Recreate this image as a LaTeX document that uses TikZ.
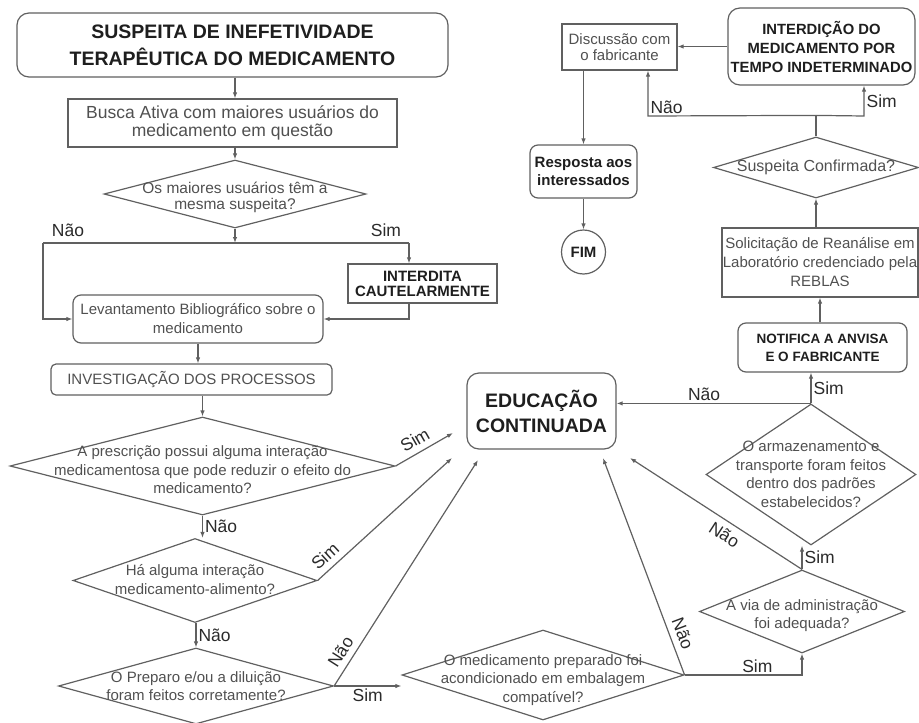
\documentclass[tikz,border=0pt]{standalone}
\usepackage{fontspec}
\setmainfont{Liberation Sans}
\usetikzlibrary{shapes.geometric,arrows.meta}
\definecolor{linegray}{HTML}{606060}
\definecolor{txtgray}{HTML}{505050}
\definecolor{lblgray}{HTML}{2A2A2A}
\definecolor{bolddark}{HTML}{1E1E1E}
\tikzset{
  ln/.style={draw=linegray,line width=1.2pt},
  arr/.style={ln,-{Latex[length=6pt,width=4.5pt]}},
  box/.style={draw=linegray,line width=1.2pt,inner sep=0pt,align=center,text=txtgray,font=\fontsize{15}{19}\selectfont},
  rbox/.style={box,rounded corners=8pt},
  bbox/.style={rbox,text=bolddark,font=\bfseries\fontsize{15}{18}\selectfont},
  dia/.style={diamond,draw=linegray,line width=1.2pt,inner sep=0pt},
  dtxt/.style={text=txtgray,align=center,inner sep=0pt,font=\fontsize{15}{18.5}\selectfont},
  lbl/.style={text=lblgray,inner sep=2pt,font=\fontsize{17.5}{20}\selectfont},
}
\begin{document}
\begin{tikzpicture}[x=1pt,y=-1pt]
\useasboundingbox (0,0) rectangle (919,723);
% coluna da esquerda
\node[bbox,rounded corners=12pt,minimum width=431pt,minimum height=64pt,font=\bfseries\fontsize{19.5}{27}\selectfont] (susp) at (232.5,45) {SUSPEITA DE INEFETIVIDADE\\TERAPÊUTICA DO MEDICAMENTO};
\node[box,minimum width=329pt,minimum height=48pt,font=\fontsize{17.5}{18}\selectfont] (busca) at (232.5,123) {Busca Ativa com maiores usuários do\\medicamento em questão};
\node[dia,minimum width=262pt,minimum height=68pt,label={[dtxt,yshift=-3pt,font=\fontsize{15.5}{16}\selectfont]center:{Os maiores usuários têm a\\mesma suspeita?}}] (d1) at (235,194) {};
\coordinate (j1) at (235,243);
\coordinate (jn) at (43,243);
\coordinate (js) at (409,243);
\node[box,minimum width=149pt,minimum height=39pt,text=bolddark,font=\bfseries\fontsize{15}{15}\selectfont] (cautela) at (422.5,283.5) {INTERDITA\\CAUTELARMENTE};
\node[rbox,minimum width=250pt,minimum height=48pt] (levant) at (198,319) {Levantamento Bibliográfico sobre o\\medicamento};
\node[rbox,rounded corners=5pt,minimum width=281pt,minimum height=31pt] (invest) at (191.5,379.5) {INVESTIGAÇÃO DOS PROCESSOS};
\node[dia,minimum width=385pt,minimum height=98pt,label={[dtxt,yshift=-4pt]center:{A prescrição possui alguma interação\\medicamentosa que pode reduzir o efeito do\\medicamento?}}] (d2) at (202.5,466) {};
\node[dia,minimum width=244pt,minimum height=84pt,label={[dtxt,yshift=1pt]center:{Há alguma interação\\medicamento-alimento?}}] (d3) at (195,580.5) {};
\node[dia,minimum width=275pt,minimum height=76pt,label={[dtxt]center:{O Preparo e/ou a diluição\\foram feitos corretamente?}}] (d4) at (196,686) {};
% centro e direita
\node[bbox,rounded corners=12pt,minimum width=149pt,minimum height=76pt,font=\bfseries\fontsize{19.5}{25}\selectfont] (edu) at (541.5,411) {EDUCAÇÃO\\CONTINUADA};
\node[dia,minimum width=282pt,minimum height=90pt,label={[dtxt,yshift=-5pt]center:{O medicamento preparado foi\\acondicionado em embalagem\\compatível?}}] (d5) at (543,675) {};
\node[dia,minimum width=205pt,minimum height=83pt,label={[dtxt,yshift=-4pt]center:{A via de administração\\foi adequada?}}] (d6) at (802,611.5) {};
\node[dia,minimum width=210pt,minimum height=141pt,label={[dtxt]center:{O armazenamento e\\transporte foram feitos\\dentro dos padrões\\estabelecidos?}}] (d7) at (811,474.5) {};
\node[bbox,minimum width=169pt,minimum height=49pt,font=\bfseries\fontsize{13.5}{18}\selectfont] (notif) at (822.5,347.5) {NOTIFICA A ANVISA\\E O FABRICANTE};
\node[box,minimum width=196pt,minimum height=69pt] (solic) at (820,262.5) {Solicitação de Reanálise em\\Laboratório credenciado pela\\REBLAS};
\node[dia,minimum width=205pt,minimum height=61pt,label={[dtxt,font=\fontsize{16}{18}\selectfont]center:{Suspeita Confirmada?}}] (d8) at (816,167.5) {};
\node[bbox,rounded corners=12pt,minimum width=187pt,minimum height=77pt,font=\bfseries\fontsize{14.8}{19}\selectfont] (interd) at (821.5,46.5) {INTERDIÇÃO DO\\MEDICAMENTO POR\\TEMPO INDETERMINADO};
\node[box,minimum width=115pt,minimum height=46pt,font=\fontsize{15}{16}\selectfont] (disc) at (619.5,47) {Discussão com\\o fabricante};
\node[bbox,minimum width=107pt,minimum height=53pt] (resp) at (583.5,171.5) {Resposta aos\\interessados};
\node[circle,draw=linegray,line width=1.2pt,minimum size=44pt,inner sep=0pt,text=bolddark,font=\bfseries\fontsize{15}{18}\selectfont] (fim) at (583.5,252) {FIM};
% pontas das setas em EDUCAÇÃO CONTINUADA
\coordinate (e1) at (453,433);
\coordinate (e2) at (452,458);
\coordinate (e3) at (478,460);
\coordinate (e4) at (603,458);
\coordinate (e5) at (630,458);
\path (d8.north) ++(0,-21) coordinate (j2);
\coordinate (jl) at (648,116);
\coordinate (jr) at (864,116);
% setas
\draw[arr] (d1.north |- susp.south) -- (d1.north |- busca.north);
\draw[arr] (busca.south -| d1.north) -- (d1.north);
\draw[arr] (d1.south) -- (j1);
\draw[ln] (jn) -- (js);
\node[lbl] (lnao1) at (68,230) {Não};
\node[lbl] (lsim1) at (386,230) {Sim};
\draw[arr] (jn) |- (levant.west);
\draw[arr] (js) -- (js |- cautela.north);
\draw[arr] (js |- cautela.south) |- (levant.east);
\draw[arr] (levant.south) -- (levant.south |- invest.north);
\draw[arr] (d2.north |- invest.south) -- (d2.north);
\draw[arr] (d2.east) -- node[lbl,sloped,above=4pt,pos=.45] (lsim2) {Sim} (e1);
\draw[arr] (d2.south) -- node[lbl,right] (lnao2) {Não} (d2.south |- d3.north);
\draw[arr] (d3.east) -- node[lbl,sloped,above=4pt,pos=.12] (lsim3) {Sim} (e2);
\draw[arr] (d4.north |- d3.south) -- node[lbl,right] (lnao3) {Não} (d4.north);
\draw[arr] (d4.east) -- node[lbl,below] (lsim4) {Sim} (d4.east -| d5.west);
\draw[arr] (d4.east) -- node[lbl,sloped,above=4pt,pos=.12] (lnao4) {Não} (e3);
\draw[arr] (d5.east) -- node[lbl,sloped,above=4pt,pos=.17] (lnao5) {Não} (e4);
\draw[arr] (d5.east) -| node[lbl,above,pos=.31] (lsim5) {Sim} (d6.south);
\draw[arr] (d6.north) -- node[lbl,sloped,below=4pt,pos=.41] (lnao6) {Não} (e5);
\draw[arr] (d6.north) -- node[lbl,right] (lsim6) {Sim} (d6.north |- d7.south);
\draw[arr] (d7.north) -- node[lbl,above,pos=.55] (lnao7) {Não} (d7.north -| edu.east);
\draw[arr] (d7.north) -- node[lbl,right] (lsim7) {Sim} (d7.north |- notif.south);
\draw[arr] (solic.south |- notif.north) -- (solic.south);
\draw[arr] (d8.south |- solic.north) -- (d8.south);
\draw[ln] (d8.north) -- (j2);
\draw[arr] (j2) -- (jr) -- node[lbl,right] (lsim8) {Sim} (jr |- interd.south);
\draw[arr] (j2) -- (jl) node[lbl,above right] (lnao8) {Não} -- (jl |- disc.south);
\draw[arr] (interd.west) -- (interd.west -| disc.east);
\draw[arr] (resp.north |- disc.south) -- (resp.north);
\draw[arr] (resp.south) -- (fim.north);
\end{tikzpicture}
\end{document}
